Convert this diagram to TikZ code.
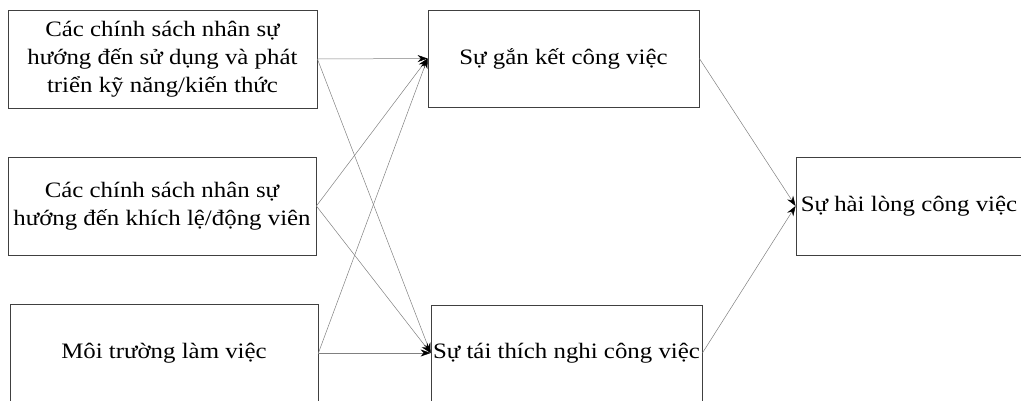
\documentclass[tikz,border=0pt]{standalone}
\usepackage{fontspec}
\setmainfont[FakeStretch=1.13]{Liberation Serif}
\usepackage{tikz}
\usetikzlibrary{arrows.meta}
\definecolor{boxline}{HTML}{404040}
\definecolor{linkgrey}{HTML}{808080}

\begin{document}
\begin{tikzpicture}[
    x=1pt, y=-1pt,
    factor/.style={rectangle, draw=boxline, line width=0.8pt, align=center, inner sep=1pt, font=\fontsize{22}{28}\selectfont},
    link/.style={-{Stealth[length=10pt, width=7pt, color=black]}, draw=linkgrey, line width=0.5pt}
]
\useasboundingbox (0,0) rectangle (1021,400);

% Left column
\node[factor, minimum width=309pt, minimum height=98pt] (skill) at (162.5,59) {Các chính sách nhân sự\\hướng đến sử dụng và phát\\triển kỹ năng/kiến thức};
\node[factor, minimum width=308pt, minimum height=98pt] (motiv) at (162,206) {Các chính sách nhân sự\\hướng đến khích lệ/động viên};
\node[factor, minimum width=308pt, minimum height=98pt] (env) at (164,353) {Môi trường làm việc};

% Middle column
\node[factor, minimum width=271pt, minimum height=97pt] (engage) at (563.5,58.5) {Sự gắn kết công việc};
\node[factor, minimum width=271pt, minimum height=96pt] (adapt) at (566.5,353) {Sự tái thích nghi công việc};

% Right column
\node[factor, minimum width=226pt, minimum height=98pt] (satis) at (909,206) {Sự hài lòng công việc};

% Links
\foreach \src in {skill, motiv, env} {
    \draw[link] (\src.east) -- (engage.west);
    \draw[link] (\src.east) -- (adapt.west);
}
\draw[link] (engage.east) -- (satis.west);
\draw[link] (adapt.east) -- (satis.west);
\end{tikzpicture}
\end{document}
